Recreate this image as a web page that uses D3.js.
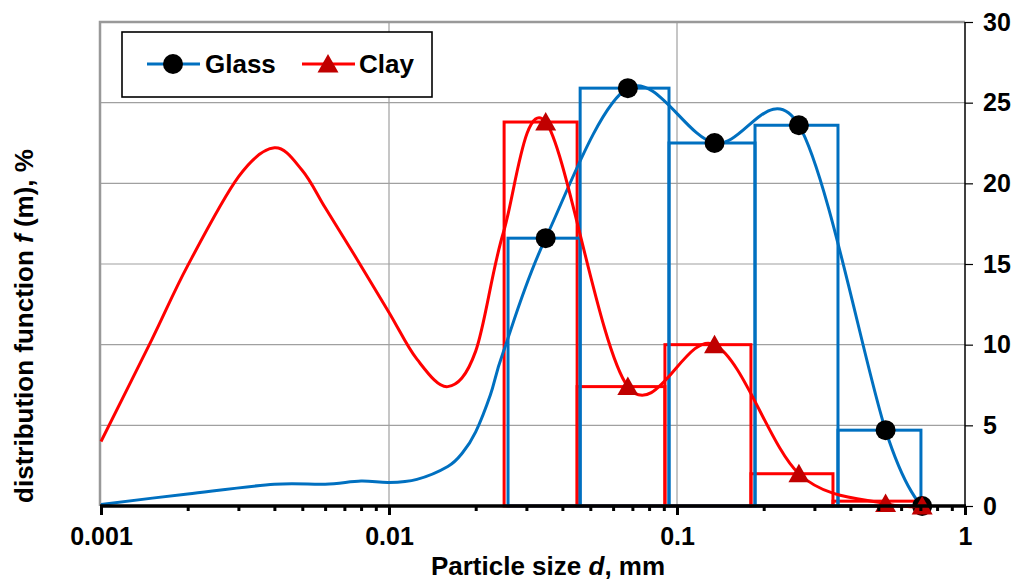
<!DOCTYPE html>
<html>
<head>
<meta charset="utf-8">
<script src="https://cdn.jsdelivr.net/npm/d3@7"></script>
<style>
  body { margin: 0; background: #fff; }
  svg { display: block; }
  text { font-family: "Liberation Sans", Arial, sans-serif; font-weight: bold; fill: #000; }
</style>
</head>
<body>
<svg id="chart" width="1020" height="581"></svg>
<script>
// Sieve classes: bin edges (mm) and the share of each class (%)
const glassEdges = [0.0259, 0.0461, 0.0938, 0.1866, 0.3622, 0.7031];
const glassBins  = [16.6, 25.9, 22.5, 23.6, 4.7];
const clayEdges  = [0.0251, 0.0450, 0.0908, 0.1806, 0.3480, 0.6813];
const clayBins   = [23.8, 7.4, 10.0, 2.0, 0.3];

// Marked points of the distribution curves (class midpoints)
const pointSizes  = [0.035, 0.0675, 0.135, 0.265, 0.53, 0.71];
const glassPoints = [16.6, 25.9, 22.5, 23.6, 4.7, 0];
const clayPoints  = [23.8, 7.4, 10.0, 2.0, 0.15, 0];

// Fine fraction of the curves (drawn without markers)
const glassFineSizes = [0.001, 0.002, 0.004, 0.006, 0.008, 0.01, 0.0125, 0.016, 0.018, 0.02, 0.0225, 0.025];
const glassFine      = [0.1, 0.75, 1.35, 1.35, 1.55, 1.45, 1.65, 2.45, 3.3, 4.6, 6.9, 9.6];
const clayFineSizes  = [0.001, 0.0015, 0.002, 0.003, 0.004, 0.005, 0.006, 0.0075, 0.01, 0.0125, 0.016, 0.02, 0.025];
const clayFine       = [4.0, 10.3, 14.9, 20.4, 22.2, 20.8, 18.5, 15.7, 12.0, 9.1, 7.4, 9.6, 17.0];

// Axis ticks
const xMajorTicks  = [0.001, 0.01, 0.1, 1];
const xTickLabels  = ["0.001", "0.01", "0.1", "1"];
const yTicks       = [0, 5, 10, 15, 20, 25, 30];
const seriesNames  = ["Glass", "Clay"];

const BLUE = "#0070C0", RED = "#FF0000", DARKRED = "#C00000", GRID = "#A0A0A0";

const svg = d3.select("#chart");
const x = d3.scaleLog().domain([0.001, 1]).range([101, 965]);
const y = d3.scaleLinear().domain([0, 30]).range([506, 22]);

// grid
const grid = svg.append("g");
grid.selectAll("line.h").data(yTicks.filter(v => v > 0 && v < 30)).join("line")
  .attr("x1", x(0.001)).attr("x2", x(1))
  .attr("y1", d => y(d)).attr("y2", d => y(d))
  .attr("stroke", GRID).attr("stroke-width", 1.2);
grid.selectAll("line.v").data(xMajorTicks.filter(v => v > 0.001 && v < 1)).join("line")
  .attr("x1", d => x(d)).attr("x2", d => x(d))
  .attr("y1", y(30)).attr("y2", y(0))
  .attr("stroke", GRID).attr("stroke-width", 1.2);
// plot-area border (left and top)
svg.append("path")
  .attr("d", `M${x(0.001) - 1},${y(0)} V${y(30)} H${x(1)}`)
  .attr("fill", "none").attr("stroke", "#999").attr("stroke-width", 2.5);

// histogram bars
function bars(edges, vals, color) {
  const data = vals.map((v, i) => ({ x0: edges[i], x1: edges[i + 1], v }));
  svg.append("g").selectAll("rect").data(data).join("rect")
    .attr("x", d => x(d.x0)).attr("width", d => x(d.x1) - x(d.x0))
    .attr("y", d => y(d.v)).attr("height", d => y(0) - y(d.v))
    .attr("fill", "none").attr("stroke", color).attr("stroke-width", 3);
}
bars(clayEdges, clayBins, RED);
bars(glassEdges, glassBins, BLUE);

// smooth curves
const line = d3.line()
  .x(d => x(d[0])).y(d => y(d[1]))
  .curve(d3.curveCardinal.tension(0));

const glassCurve = glassFineSizes.map((s, i) => [s, glassFine[i]])
  .concat(pointSizes.map((s, i) => [s, glassPoints[i]]));
const clayCurve = clayFineSizes.map((s, i) => [s, clayFine[i]])
  .concat(pointSizes.map((s, i) => [s, clayPoints[i]]));

const triPath = "M0,-10 L10.5,8.5 L-10.5,8.5 Z";

svg.append("path").datum(glassCurve).attr("d", line)
  .attr("fill", "none").attr("stroke", BLUE).attr("stroke-width", 3);
svg.append("g").selectAll("circle").data(pointSizes.map((s, i) => [s, glassPoints[i]])).join("circle")
  .attr("cx", d => x(d[0])).attr("cy", d => y(d[1])).attr("r", 10).attr("fill", "#000");

svg.append("path").datum(clayCurve).attr("d", line)
  .attr("fill", "none").attr("stroke", RED).attr("stroke-width", 3);
svg.append("g").selectAll("path").data(pointSizes.map((s, i) => [s, clayPoints[i]])).join("path")
  .attr("d", triPath)
  .attr("transform", d => `translate(${x(d[0])},${y(d[1])})`)
  .attr("fill", DARKRED);

// bottom axis: minor ticks, then major ticks with labels
const minorTicks = [];
[0.001, 0.01, 0.1].forEach(dec => { for (let k = 2; k <= 9; k++) minorTicks.push(dec * k); });
const xMinor = svg.append("g").attr("transform", `translate(0,${y(0)})`)
  .call(d3.axisBottom(x).tickValues(minorTicks).tickSize(5).tickFormat(""));
xMinor.select(".domain").remove();
xMinor.selectAll(".tick line").attr("stroke", "#000").attr("stroke-width", 3);

const xAxis = svg.append("g").attr("transform", `translate(0,${y(0)})`)
  .call(d3.axisBottom(x).tickValues(xMajorTicks).tickSize(9).tickPadding(12)
    .tickFormat((d, i) => xTickLabels[i]));
xAxis.select(".domain").attr("d", `M${x(0.001) - 1},0H${x(1) + 1}`).attr("stroke", "#000").attr("stroke-width", 3.5);
xAxis.selectAll(".tick line").attr("stroke", "#000").attr("stroke-width", 3);
xAxis.selectAll(".tick text").attr("font-size", 25).attr("dy", "0.71em")
  .style("font-family", '"Liberation Sans", Arial, sans-serif').style("font-weight", "bold").attr("fill", "#000");

// right axis
const yAxis = svg.append("g").attr("transform", `translate(${x(1)},0)`)
  .call(d3.axisRight(y).tickValues(yTicks).tickSize(8).tickPadding(10));
yAxis.select(".domain").attr("d", `M0,${y(30)}V${y(0)}`).attr("stroke", "#000").attr("stroke-width", 1.5);
yAxis.selectAll(".tick line").attr("stroke", "#000").attr("stroke-width", 1.2);
yAxis.selectAll(".tick text").attr("font-size", 25)
  .style("font-family", '"Liberation Sans", Arial, sans-serif').style("font-weight", "bold").attr("fill", "#000");

// axis titles
const xt = svg.append("text").attr("x", 548).attr("y", 575).attr("text-anchor", "middle").attr("font-size", 26);
xt.append("tspan").text("Particle size ");
xt.append("tspan").attr("font-style", "italic").text("d");
xt.append("tspan").text(", mm");

const yt = svg.append("text").attr("transform", "translate(33,326) rotate(-90)")
  .attr("text-anchor", "middle").attr("font-size", 26);
yt.append("tspan").text("distribution function ");
yt.append("tspan").attr("font-style", "italic").text("f");
yt.append("tspan").text(" (m), %");

// legend
const lg = svg.append("g");
lg.append("rect").attr("x", 122).attr("y", 32).attr("width", 310).attr("height", 65)
  .attr("fill", "#fff").attr("stroke", "#000").attr("stroke-width", 1.6);
lg.append("line").attr("x1", 147).attr("x2", 200).attr("y1", 64).attr("y2", 64)
  .attr("stroke", BLUE).attr("stroke-width", 3);
lg.append("circle").attr("cx", 173).attr("cy", 64).attr("r", 10).attr("fill", "#000");
lg.append("text").attr("x", 205).attr("y", 73).attr("font-size", 26).text(seriesNames[0]);
lg.append("line").attr("x1", 302).attr("x2", 355).attr("y1", 64).attr("y2", 64)
  .attr("stroke", RED).attr("stroke-width", 3);
lg.append("path").attr("d", triPath).attr("transform", "translate(328,64)").attr("fill", DARKRED);
lg.append("text").attr("x", 359).attr("y", 73).attr("font-size", 26).text(seriesNames[1]);
</script>
</body>
</html>
